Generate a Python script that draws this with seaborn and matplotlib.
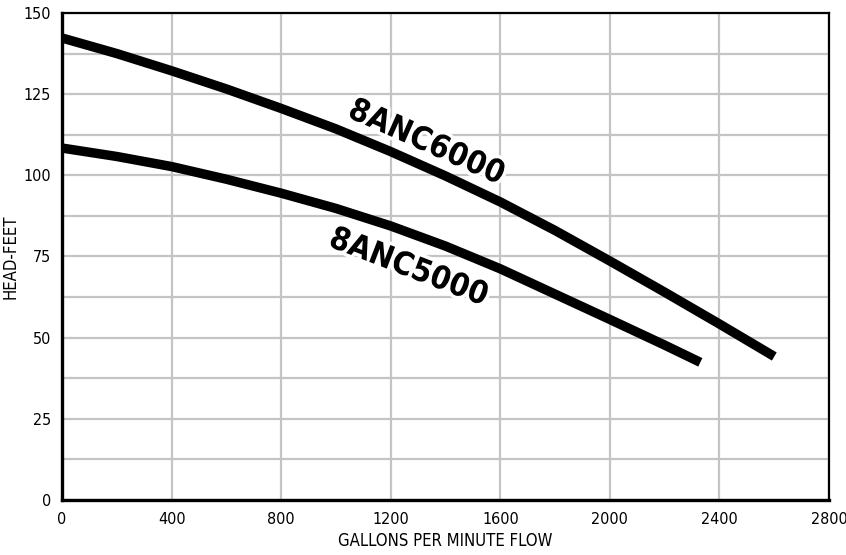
import numpy as np
import pandas as pd
import seaborn as sns
import matplotlib.pyplot as plt
import matplotlib.patheffects as pe

# pump curves (gpm vs head in feet)
flow_6000 = [0, 200, 400, 600, 800, 1000, 1200, 1400, 1600, 1800, 2000, 2200, 2400, 2600]
head_6000 = [142.3, 137.5, 132.2, 126.6, 120.6, 114.3, 107.3, 99.8, 91.8, 83.0, 73.6, 64.0, 54.2, 44.2]

flow_5000 = [0, 200, 400, 600, 800, 1000, 1200, 1400, 1600, 1800, 2000, 2200, 2330]
head_5000 = [108.4, 105.8, 102.7, 98.8, 94.5, 89.8, 84.4, 78.2, 71.2, 63.4, 55.6, 47.7, 42.4]

x_ticks = [0, 400, 800, 1200, 1600, 2000, 2400, 2800]
y_ticks = [0, 25, 50, 75, 100, 125, 150]

df = pd.concat([
    pd.DataFrame({"GPM": flow_6000, "HEAD": head_6000, "Model": "8ANC6000"}),
    pd.DataFrame({"GPM": flow_5000, "HEAD": head_5000, "Model": "8ANC5000"}),
])

sns.set_theme(style="white")
plt.rcParams['font.family'] = ['DejaVu Sans']
plt.rcParams['font.stretch'] = 'condensed'

fig = plt.figure(figsize=(8.46, 5.55), dpi=100)
ax = fig.add_axes([0.0733, 0.0991, 0.9067, 0.8775])

sns.lineplot(data=df, x="GPM", y="HEAD", units="Model", estimator=None,
             color="black", lw=6.8, solid_capstyle="butt", ax=ax)

ax.set_xlim(0, 2800)
ax.set_ylim(0, 150)
ax.set_xticks(x_ticks)
ax.set_yticks(y_ticks)
ax.set_yticks(np.arange(12.5, 150, 25), minor=True)
ax.grid(True, which="both", color="#c4c4c4", lw=1.6)
ax.set_axisbelow(True)
ax.tick_params(axis="y", which="both", length=0, labelsize=11.5, colors="black", pad=8)
ax.tick_params(axis="x", which="both", length=0, labelsize=11.5, colors="black", pad=9)

for side in ["left", "bottom"]:
    ax.spines[side].set_linewidth(2.4)
for side in ["top", "right"]:
    ax.spines[side].set_linewidth(1.6)
for s in ax.spines.values():
    s.set_color("black")

ax.set_xlabel("GALLONS PER MINUTE FLOW", fontsize=12, color="black", labelpad=3)
ax.set_ylabel("HEAD-FEET", fontsize=12, color="black")
ax.yaxis.set_label_coords(-0.055, 0.5)

outline = [pe.withStroke(linewidth=5, foreground="white")]
ax.text(1330, 110, "8ANC6000", rotation=-24, fontsize=23, fontweight="heavy",
        ha="center", va="center", color="black", path_effects=outline)
ax.text(1265, 71.5, "8ANC5000", rotation=-21, fontsize=23, fontweight="heavy",
        ha="center", va="center", color="black", path_effects=outline)

fig.savefig("out.png", dpi=100)
